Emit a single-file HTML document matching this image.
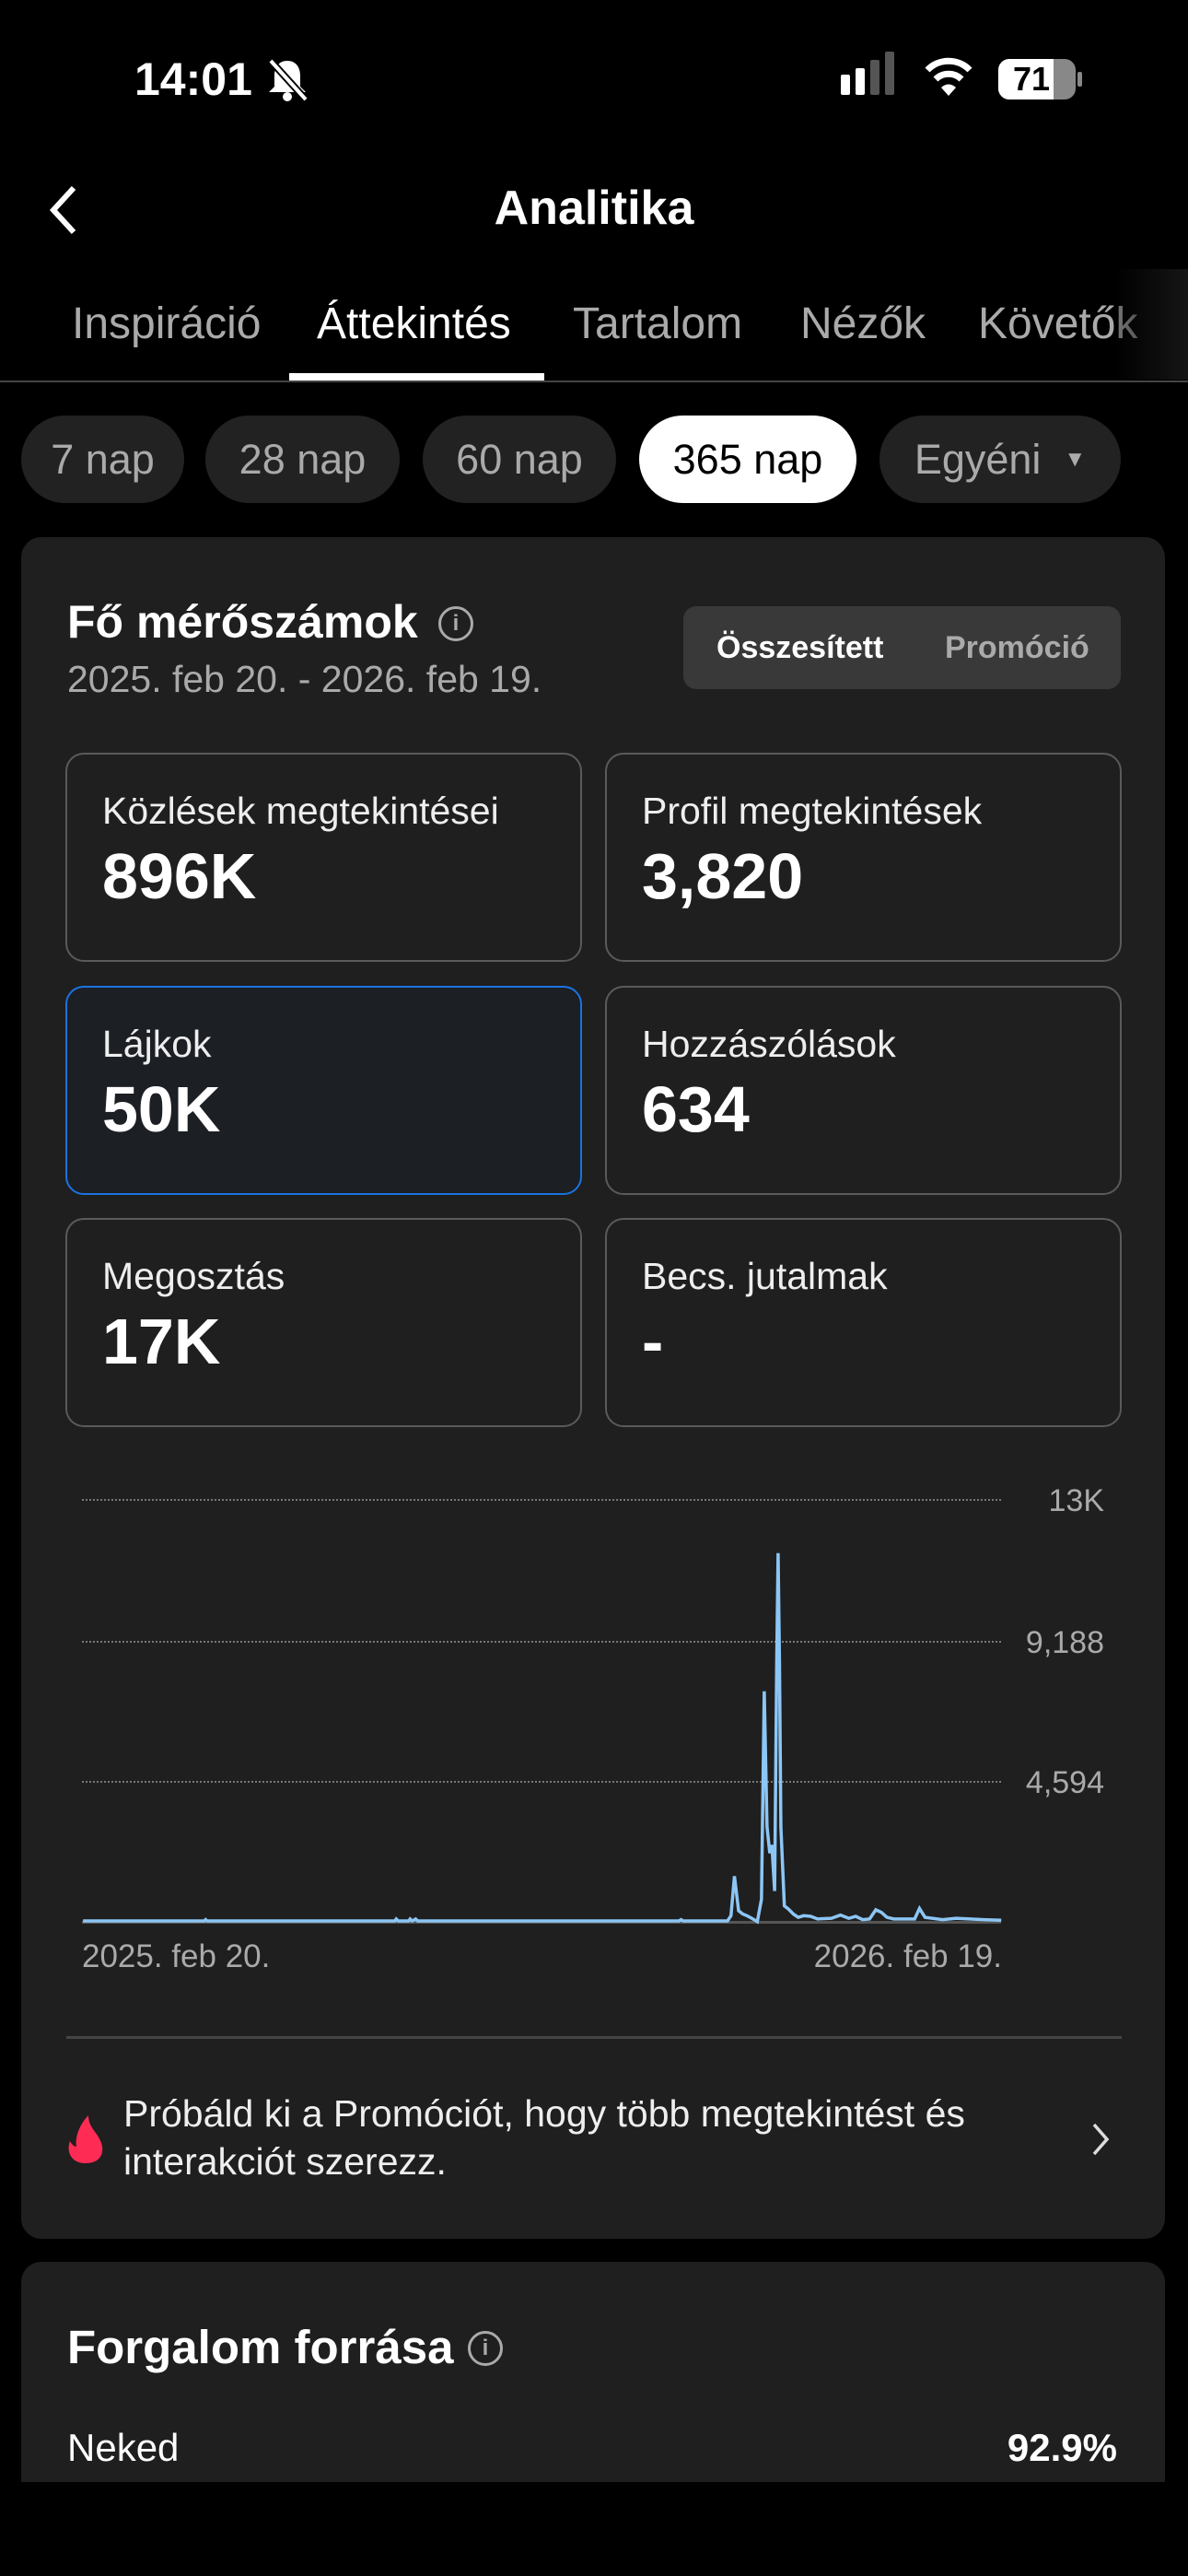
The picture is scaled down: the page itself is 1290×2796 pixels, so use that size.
<!DOCTYPE html>
<html><head><meta charset="utf-8"><style>
*{margin:0;padding:0;box-sizing:border-box}
body{width:1290px;height:2796px;background:#000;position:relative;overflow:hidden;font-family:"Liberation Sans",sans-serif;color:#fff}
.a{position:absolute;white-space:nowrap;line-height:1}
.pill{position:absolute;top:451px;height:95px;border-radius:48px;background:#222;color:#aaa;font-size:45px;display:flex;align-items:center;justify-content:center}
.box{position:absolute;width:561px;height:227px;border:2px solid #5a5a5a;border-radius:20px}
.box .l{position:absolute;left:38px;top:38px;font-size:41px;color:#eee}
.box .v{position:absolute;left:38px;top:92px;font-size:70px;font-weight:bold}
.grid{position:absolute;left:89px;width:998px;border-top:2px dotted #777}
.yl{position:absolute;right:91px;font-size:34px;color:#aaa}
.tab{position:absolute;top:328px;font-size:48px;color:#aaa;white-space:nowrap;line-height:1}
</style></head><body>
<div class="a" style="left:146px;top:61px;font-size:50px;font-weight:bold">14:01</div>
<svg style="position:absolute;left:286px;top:62px" width="52" height="50" viewBox="0 0 52 50"><path d="M26 4 C16 4 12 12 12 20 L12 32 L6 38 L46 38 L40 32 L40 20 C40 12 36 4 26 4Z" fill="#fff"/><circle cx="26" cy="43" r="5" fill="#fff"/><path d="M8 4 L46 46" stroke="#000" stroke-width="8"/><path d="M8 4 L46 46" stroke="#fff" stroke-width="4"/></svg>
<div style="position:absolute;left:913px;top:81px;width:10px;height:22px;background:#fff;border-radius:2px"></div>
<div style="position:absolute;left:929px;top:74px;width:10px;height:29px;background:#fff;border-radius:2px"></div>
<div style="position:absolute;left:945px;top:65px;width:10px;height:38px;background:#555;border-radius:2px"></div>
<div style="position:absolute;left:961px;top:56px;width:10px;height:47px;background:#555;border-radius:2px"></div>
<svg style="position:absolute;left:1003px;top:60px" width="54" height="46" viewBox="0 0 54 46"><path d="M4 16 A32 32 0 0 1 50 16" stroke="#fff" stroke-width="7" fill="none"/><path d="M13 26 A20 20 0 0 1 41 26" stroke="#fff" stroke-width="7" fill="none"/><path d="M27 44 L19 35 A11 11 0 0 1 35 35 Z" fill="#fff"/></svg>
<div style="position:absolute;left:1084px;top:64px;width:84px;height:44px;border-radius:12px;background:#888;overflow:hidden"><div style="width:60px;height:44px;background:#fff"></div></div>
<div style="position:absolute;left:1170px;top:78px;width:5px;height:16px;background:#888;border-radius:2px"></div>
<div class="a" style="left:1100px;top:68px;font-size:36px;font-weight:bold;color:#000">71</div>
<svg style="position:absolute;left:48px;top:200px" width="40" height="56"><path d="M32 4 L10 28 L32 52" stroke="#fff" stroke-width="6" fill="none"/></svg>
<div class="a" style="left:0;width:1290px;text-align:center;top:200px;font-size:52px;font-weight:bold">Analitika</div>
<div class="tab" style="left:78px">Inspiráció</div>
<div class="tab" style="left:344px;color:#fff">Áttekintés</div>
<div class="tab" style="left:622px">Tartalom</div>
<div class="tab" style="left:869px">Nézők</div>
<div class="tab" style="left:1062px">Követők</div>
<div style="position:absolute;left:1210px;top:292px;width:80px;height:120px;background:linear-gradient(90deg,rgba(0,0,0,0.3),#151515)"></div>
<div style="position:absolute;left:0;top:413px;width:1290px;height:2px;background:#444"></div>
<div style="position:absolute;left:314px;top:405px;width:277px;height:8px;background:#fff"></div>
<div class="pill" style="left:23px;width:177px">7 nap</div>
<div class="pill" style="left:223px;width:211px">28 nap</div>
<div class="pill" style="left:459px;width:210px">60 nap</div>
<div class="pill" style="left:694px;width:236px;background:#fff;color:#000">365 nap</div>
<div class="pill" style="left:955px;width:262px">Egyéni&nbsp;&nbsp;<span style="font-size:24px">▼</span></div>
<div style="position:absolute;left:23px;top:583px;width:1242px;height:1847px;background:#1f1f1f;border-radius:22px"></div>
<div class="a" style="left:73px;top:650px;font-size:50px;font-weight:bold">Fő mérőszámok</div>
<div style="position:absolute;left:476px;top:658px;width:38px;height:38px;border:3px solid #aaa;border-radius:50%;color:#aaa;font-size:24px;text-align:center;line-height:32px;font-weight:bold">i</div>
<div class="a" style="left:73px;top:717px;font-size:41px;color:#aaa">2025. feb 20. - 2026. feb 19.</div>
<div style="position:absolute;left:742px;top:658px;width:475px;height:90px;background:#393939;border-radius:14px"></div>
<div class="a" style="left:778px;top:686px;font-size:34px;color:#fff;font-weight:bold">Összesített</div>
<div class="a" style="left:1026px;top:686px;font-size:34px;color:#aaa;font-weight:bold">Promóció</div>
<div class="box" style="left:71px;top:817px"><div class="l">Közlések megtekintései</div><div class="v">896K</div></div>
<div class="box" style="left:657px;top:817px"><div class="l">Profil megtekintések</div><div class="v">3,820</div></div>
<div class="box" style="left:71px;top:1070px;border-color:#1a73e0;background:#1c1f24"><div class="l">Lájkok</div><div class="v">50K</div></div>
<div class="box" style="left:657px;top:1070px"><div class="l">Hozzászólások</div><div class="v">634</div></div>
<div class="box" style="left:71px;top:1322px"><div class="l">Megosztás</div><div class="v">17K</div></div>
<div class="box" style="left:657px;top:1322px"><div class="l">Becs. jutalmak</div><div class="v">-</div></div>
<div class="grid" style="top:1627px"></div>
<div class="grid" style="top:1781px"></div>
<div class="grid" style="top:1933px"></div>
<div class="yl" style="top:1610px">13K</div>
<div class="yl" style="top:1764px">9,188</div>
<div class="yl" style="top:1916px">4,594</div>
<div style="position:absolute;left:89px;top:2085px;width:998px;height:3px;background:#555"></div>
<svg style="position:absolute;left:60px;top:1590px" width="1180" height="560" viewBox="0 0 1568 1568" preserveAspectRatio="none"><polyline vector-effect="non-scaling-stroke" fill="none" stroke="#8cc6f5" stroke-width="3.5" points="40,1386 215,1386 217,1382 219,1386 490,1386 492,1380 495,1386 510,1386 512,1380 515,1386 520,1380 523,1386 900,1386 903,1382 906,1386 960,1386 970,1386 975,1370 980,1250 986,1355 992,1365 998,1370 1005,1378 1013,1388 1019,1320 1023,688 1027,1100 1031,1180 1034,1155 1038,1295 1041,600 1043,268 1045,600 1047,1100 1052,1340 1058,1350 1065,1365 1072,1375 1080,1370 1090,1372 1100,1380 1120,1378 1133,1368 1145,1378 1155,1372 1165,1382 1175,1380 1184,1352 1192,1360 1200,1375 1210,1380 1240,1380 1247,1348 1255,1375 1280,1382 1300,1378 1340,1382 1365,1384"/></svg>
<div class="a" style="left:89px;top:2106px;font-size:35px;color:#aaa">2025. feb 20.</div>
<div class="a" style="right:202px;top:2106px;font-size:35px;color:#aaa">2026. feb 19.</div>
<div style="position:absolute;left:72px;top:2210px;width:1146px;height:3px;background:#444"></div>
<svg style="position:absolute;left:70px;top:2294px" width="46" height="56" viewBox="0 0 46 56"><path d="M23 54 C6 54 2 40 6 30 C8 34 11 36 13 36 C11 24 18 10 26 2 C26 16 36 20 40 32 C44 44 38 54 23 54Z" fill="#fe2c55"/></svg>
<div class="a" style="left:134px;top:2268px;font-size:41px;color:#eee;line-height:52px">Próbáld ki a Promóciót, hogy több megtekintést és<br>interakciót szerezz.</div>
<svg style="position:absolute;left:1184px;top:2302px" width="24" height="40"><path d="M4 4 L18 20 L4 36" stroke="#ddd" stroke-width="3.5" fill="none"/></svg>
<div style="position:absolute;left:23px;top:2455px;width:1242px;height:239px;background:#1f1f1f;border-radius:22px 22px 0 0"></div>
<div class="a" style="left:73px;top:2522px;font-size:51px;font-weight:bold">Forgalom forrása</div>
<div style="position:absolute;left:508px;top:2530px;width:38px;height:38px;border:3px solid #aaa;border-radius:50%;color:#aaa;font-size:24px;text-align:center;line-height:32px;font-weight:bold">i</div>
<div class="a" style="left:73px;top:2636px;font-size:42px">Neked</div>
<div class="a" style="right:77px;top:2636px;font-size:42px;font-weight:bold">92.9%</div>
</body></html>
